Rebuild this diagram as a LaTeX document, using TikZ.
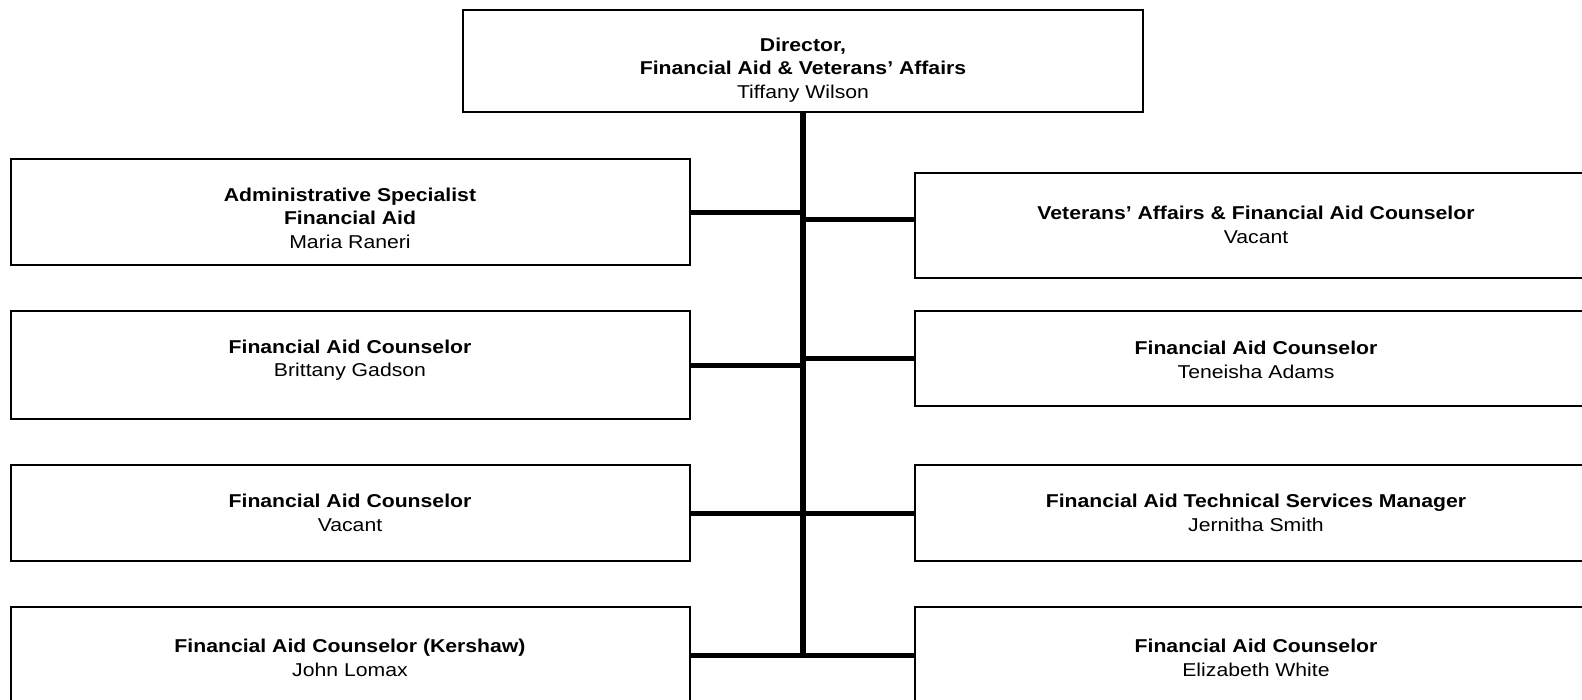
\documentclass[tikz,border=0pt]{standalone}
\usepackage{fontspec}
\setmainfont{Liberation Sans}[FakeStretch=1.14]
\begin{document}
\begin{tikzpicture}[x=1pt,y=-1pt,
    box/.style={draw,rectangle,line width=1.6pt,inner sep=0pt},
    lbox/.style={box,minimum width=679pt},
    rbox/.style={box,minimum width=682pt},
    txt/.style={align=center,inner sep=0pt,font=\fontsize{18.6}{23.5}\selectfont},
    trunk/.style={line width=6pt},
    arm/.style={line width=5pt}]

      \useasboundingbox (0,0) rectangle (1582,699);
      \clip (0,0) rectangle (1582,699);

      % boxes
      \node[box,minimum width=680pt,minimum height=102pt] (dir) at (803,61) {};
      \node[lbox,minimum height=106pt] (adm) at (350.5,212) {};
      \node[lbox,minimum height=108pt] (fa1) at (350.5,365) {};
      \node[lbox,minimum height=96pt] (fa2) at (350.5,513) {};
      \node[lbox,minimum height=96pt] (kers) at (350.5,655) {};
      \node[rbox,minimum height=105pt] (vet) at (1256,225.5) {};
      \node[rbox,minimum height=95pt] (fa3) at (1256,358.5) {};
      \node[rbox,minimum height=96pt] (tech) at (1256,513) {};
      \node[rbox,minimum height=96pt] (fa4) at (1256,655) {};

      % texts
      \node[txt] (dir-t) at (803,70) {\textbf{Director,}\\\textbf{Financial Aid \& Veterans’ Affairs}\\Tiffany Wilson};
      \node[txt] (adm-t) at (350,218) {\textbf{Administrative Specialist}\\\textbf{Financial Aid}\\Maria Raneri};
      \node[txt] (fa1-t) at (350,360) {\textbf{Financial Aid Counselor}\\Brittany Gadson};
      \node[txt] (fa2-t) at (350,513) {\textbf{Financial Aid Counselor}\\Vacant};
      \node[txt] (kers-t) at (350,658) {\textbf{Financial Aid Counselor (Kershaw)}\\John Lomax};
      \node[txt] (vet-t) at (1256,225) {\textbf{Veterans’ Affairs \& Financial Aid Counselor}\\Vacant};
      \node[txt] (fa3-t) at (1256,360) {\textbf{Financial Aid Counselor}\\Teneisha Adams};
      \node[txt] (tech-t) at (1256,513) {\textbf{Financial Aid Technical Services Manager}\\Jernitha Smith};
      \node[txt] (fa4-t) at (1256,658) {\textbf{Financial Aid Counselor}\\Elizabeth White};

      % lines
      \coordinate (vet-in) at ([yshift=6pt]vet.west);
      \draw[trunk] (dir.south) -- (dir.south |- kers.east);
      \draw[arm] (adm.east) -- (adm.east -| dir.south);
      \draw[arm] (vet-in) -- (vet-in -| dir.south);
      \draw[arm] (fa1.east) -- (fa1.east -| dir.south);
      \draw[arm] (fa3.west) -- (fa3.west -| dir.south);
      \draw[arm] (fa2.east) -- (tech.west);
      \draw[arm] (kers.east) -- (fa4.west);

\end{tikzpicture}
\end{document}
